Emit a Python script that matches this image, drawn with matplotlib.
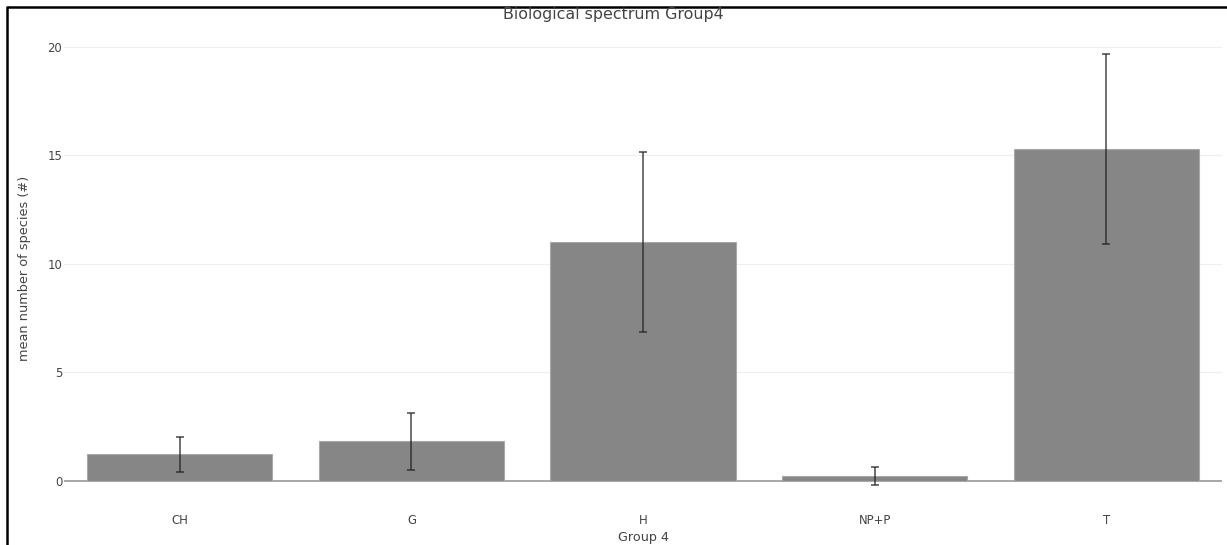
import matplotlib
matplotlib.use("Agg")
import matplotlib.pyplot as plt
from matplotlib.lines import Line2D

# Life-form categories and their mean species counts with spread
categories = ["CH", "G", "H", "NP+P", "T"]
means = [1.2, 1.8, 11.0, 0.2, 15.3]
errors = [0.8, 1.3, 4.15, 0.41, 4.37]
y_ticks = [0, 5, 10, 15, 20]

title = "Biological spectrum Group4"
x_title = "Group 4"
y_title = "mean number of species (#)"

W, H, DPI = 1227, 545, 100
fig = plt.figure(figsize=(W / DPI, H / DPI), dpi=DPI)
fig.patch.set_facecolor("white")

# plot area in pixel coordinates
left_px, right_px = 64, 1222
ymin, ymax = -0.6, 20.8
zero_px, twenty_px = 480.5, 47.0
ppu = (zero_px - twenty_px) / 20.0
bottom_px = zero_px - ymin * ppu
top_px = zero_px - ymax * ppu

ax = fig.add_axes([left_px / W, (H - bottom_px) / H,
                   (right_px - left_px) / W, (bottom_px - top_px) / H])
ax.set_facecolor("white")

x = list(range(len(categories)))
ax.bar(x, means, width=0.8, color="#868686", edgecolor="#a9a9a9",
       linewidth=0.8, zorder=2)
ax.errorbar(x, means, yerr=errors, fmt="none", ecolor="#222222",
            elinewidth=1.15, capsize=3.0, capthick=1.15, alpha=0.8, zorder=3)

ax.set_xlim(-0.5, len(categories) - 0.5)
ax.set_ylim(ymin, ymax)
ax.set_yticks(y_ticks)
ax.set_yticklabels([str(t) for t in y_ticks])
ax.set_xticks(x)
ax.set_xticklabels(categories)

for s in ax.spines.values():
    s.set_visible(False)
ax.grid(axis="y", color="#eeeeee", linewidth=0.8, zorder=0)
ax.set_axisbelow(True)
ax.axhline(0, color="#9a9a9a", linewidth=1.2, zorder=1.5)

ax.tick_params(axis="both", length=0, colors="#444444", labelsize=8.4)
ax.tick_params(axis="x", pad=15)
ax.tick_params(axis="y", pad=1.2)

# titles
fig.text(0.5, 1 - 14 / H, title, ha="center", va="center",
         fontsize=11.4, color="#444444")
fig.text(643 / W, 1 - 538 / H, x_title, ha="center", va="center",
         fontsize=9.2, color="#444444")
fig.text(25 / W, 1 - 268 / H, y_title, ha="center", va="center",
         rotation=90, fontsize=9.3, color="#444444")

# outer frame lines along the top and left edges
fig.add_artist(Line2D([7 / W, 1.0], [1 - 7 / H, 1 - 7 / H],
                      transform=fig.transFigure, color="black",
                      linewidth=1.8, solid_capstyle="butt"))
fig.add_artist(Line2D([7 / W, 7 / W], [1 - 6 / H, 0.0],
                      transform=fig.transFigure, color="black",
                      linewidth=1.8, solid_capstyle="butt"))

fig.savefig("out.png", dpi=DPI, facecolor="white")
